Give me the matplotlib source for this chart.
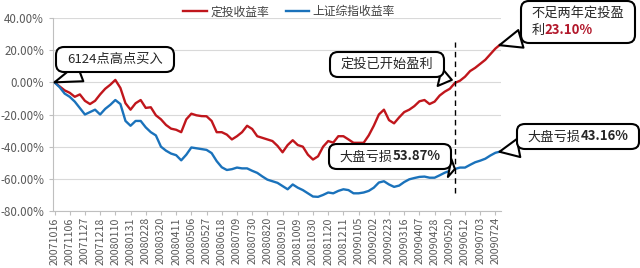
import matplotlib
matplotlib.use("Agg")
import matplotlib.pyplot as plt
from matplotlib.offsetbox import TextArea, HPacker, VPacker, DrawingArea, AnnotationBbox

plt.rcParams['font.family'] = ['Noto Sans CJK SC', 'DejaVu Sans']

# trading-day index (sampled every 5 days) and the two return series (%)
days = list(range(0, 436, 5)) + [439]
red = [0, -2.5, -5, -6.5, -9, -7.5, -11.5, -13.5, -11.5, -7.5,
       -4, -1.5, 1.5, -3.5, -13, -17, -13, -11, -15.9, -15.5,
       -20.5, -23, -26.5, -28.8, -29.5, -31, -23, -19.5, -20.5, -21,
       -21.1, -24, -31, -31, -32.5, -35.5, -33.5, -31, -27, -29,
       -33.5, -34.5, -35.5, -36.5, -39.5, -43.5, -39, -36, -39, -40,
       -45, -48, -46, -40, -36.5, -37.5, -33.5, -33.5, -35.5, -37.6,
       -37.6, -37.6, -33, -27, -20, -17, -23.5, -25.5, -21.8, -18.5,
       -17, -14.8, -11.8, -11, -13.5, -12, -8.2, -5.8, -4, -0.4,
       1, 3.5, 7, 9, 11.5, 14, 17.5, 21, 23.1]
blue = [0, -3, -7, -9, -12, -16, -20, -18.5, -17, -20,
        -16.5, -14, -11, -13.5, -24, -27, -24, -24, -28, -31,
        -33, -40, -42.5, -44.3, -45.3, -48.5, -45, -40.5, -41, -41.5,
        -42, -44, -49, -52.8, -54.5, -54, -53, -53.5, -53.5, -55,
        -56.3, -58.5, -60.5, -61.5, -62.5, -64.5, -66.5, -63.5, -65.5, -67,
        -69, -71, -71.2, -70, -68.5, -69, -67.5, -66.5, -67, -69,
        -69, -68.5, -67.5, -65.5, -62.3, -61.5, -63.5, -65, -64.2, -62,
        -60.3, -59.5, -58.8, -58.6, -59.3, -59.3, -57.8, -56.2, -55, -53.87,
        -53, -53, -51.3, -49.7, -48.7, -47.5, -45.5, -43.8, -43.16]

tick_days = list(range(0, 436, 15))
tick_labels = ['20071016', '20071106', '20071127', '20071218', '20080110', '20080131',
               '20080228', '20080320', '20080411', '20080506', '20080527', '20080618',
               '20080709', '20080730', '20080820', '20080910', '20081009', '20081030',
               '20081120', '20081211', '20090105', '20090202', '20090223', '20090316',
               '20090407', '20090428', '20090520', '20090612', '20090703', '20090724']
yticks = [40, 20, 0, -20, -40, -60, -80]
mark_day = 395   # the day the plan turns profitable

gray = '#595959'
red_c = '#C0161C'
blue_c = '#1A72BB'

fig = plt.figure(figsize=(6.4, 2.68), dpi=100)
ax = fig.add_axes([53 / 640, 1 - 211 / 268, 448 / 640, 193 / 268])

ax.plot(days, red, color=red_c, lw=1.7, label='定投收益率')
ax.plot(days, blue, color=blue_c, lw=1.7, label='上证综指收益率')
ax.vlines(mark_day, -69, 25, colors='black', linestyles=(0, (4, 3)), lw=1)

ax.set_xlim(-1.5, 440.5)
ax.set_ylim(-80, 40)
ax.set_yticks(yticks)
ax.set_yticklabels(['%.2f%%' % v for v in yticks])
ax.set_xticks(tick_days)
ax.set_xticklabels(tick_labels, rotation=90)
ax.tick_params(axis='y', labelsize=8.3, colors=gray, length=3, color='#BFBFBF')
ax.tick_params(axis='x', labelsize=7.7, colors=gray, length=3, pad=1.5, color='#BFBFBF')
ax.grid(axis='y', color='#D9D9D9', lw=0.8)
ax.set_axisbelow(True)
for s in ['top', 'right']:
    ax.spines[s].set_visible(False)
for s in ['left', 'bottom']:
    ax.spines[s].set_color('#BFBFBF')

fig.legend(loc='center', bbox_to_anchor=(289 / 640, 1 - 12 / 268), ncol=2, frameon=False,
           fontsize=8.5, handlelength=2.0, handletextpad=0.3, columnspacing=1.4,
           labelcolor='#404040')


def callout(lines, xy, center, hpad=3.5):
    rows = []
    for line in lines:
        parts = [TextArea(t, textprops=dict(fontsize=9.5, color=c, fontweight=w))
                 for t, c, w in line]
        rows.append(HPacker(children=parts, sep=0, pad=0, align='baseline'))
    body = VPacker(children=rows, sep=2, pad=0, align='left')
    wrap = HPacker(children=[DrawingArea(hpad, 1), body, DrawingArea(hpad, 1)],
                   sep=0, pad=0, align='center')
    ab = AnnotationBbox(wrap, xy, xybox=center, xycoords='data', boxcoords='figure pixels',
                        fontsize=9.5, pad=0.45,
                        bboxprops=dict(boxstyle='round,pad=0.45,rounding_size=0.6',
                                       fc='white', ec='black', lw=1.5),
                        arrowprops=dict(arrowstyle='wedge,tail_width=1.0', fc='white',
                                        ec='black', lw=1.5, shrinkA=0, shrinkB=0),
                        annotation_clip=False)
    ax.add_artist(ab)


k = '#262626'
callout([[('6124点高点买入', k, 'normal')]], (days[0], red[0]), (115, 268 - 59.5))
callout([[('定投已开始盈利', k, 'normal')]], (mark_day - 3, 1.5), (387, 268 - 64.5))
callout([[('不足两年定投盈', k, 'normal')],
         [('利', k, 'normal'), ('23.10%', '#B2182B', 'bold')]],
        (days[-1], red[-1]), (578, 268 - 22))
callout([[('大盘亏损', k, 'normal'), ('53.87%', k, 'bold')]],
        (mark_day, blue[days.index(mark_day)]), (390, 268 - 156.5))
callout([[('大盘亏损', k, 'normal'), ('43.16%', k, 'bold')]],
        (days[-1], blue[-1]), (578, 268 - 136.5))

fig.savefig('out.png', dpi=100)
